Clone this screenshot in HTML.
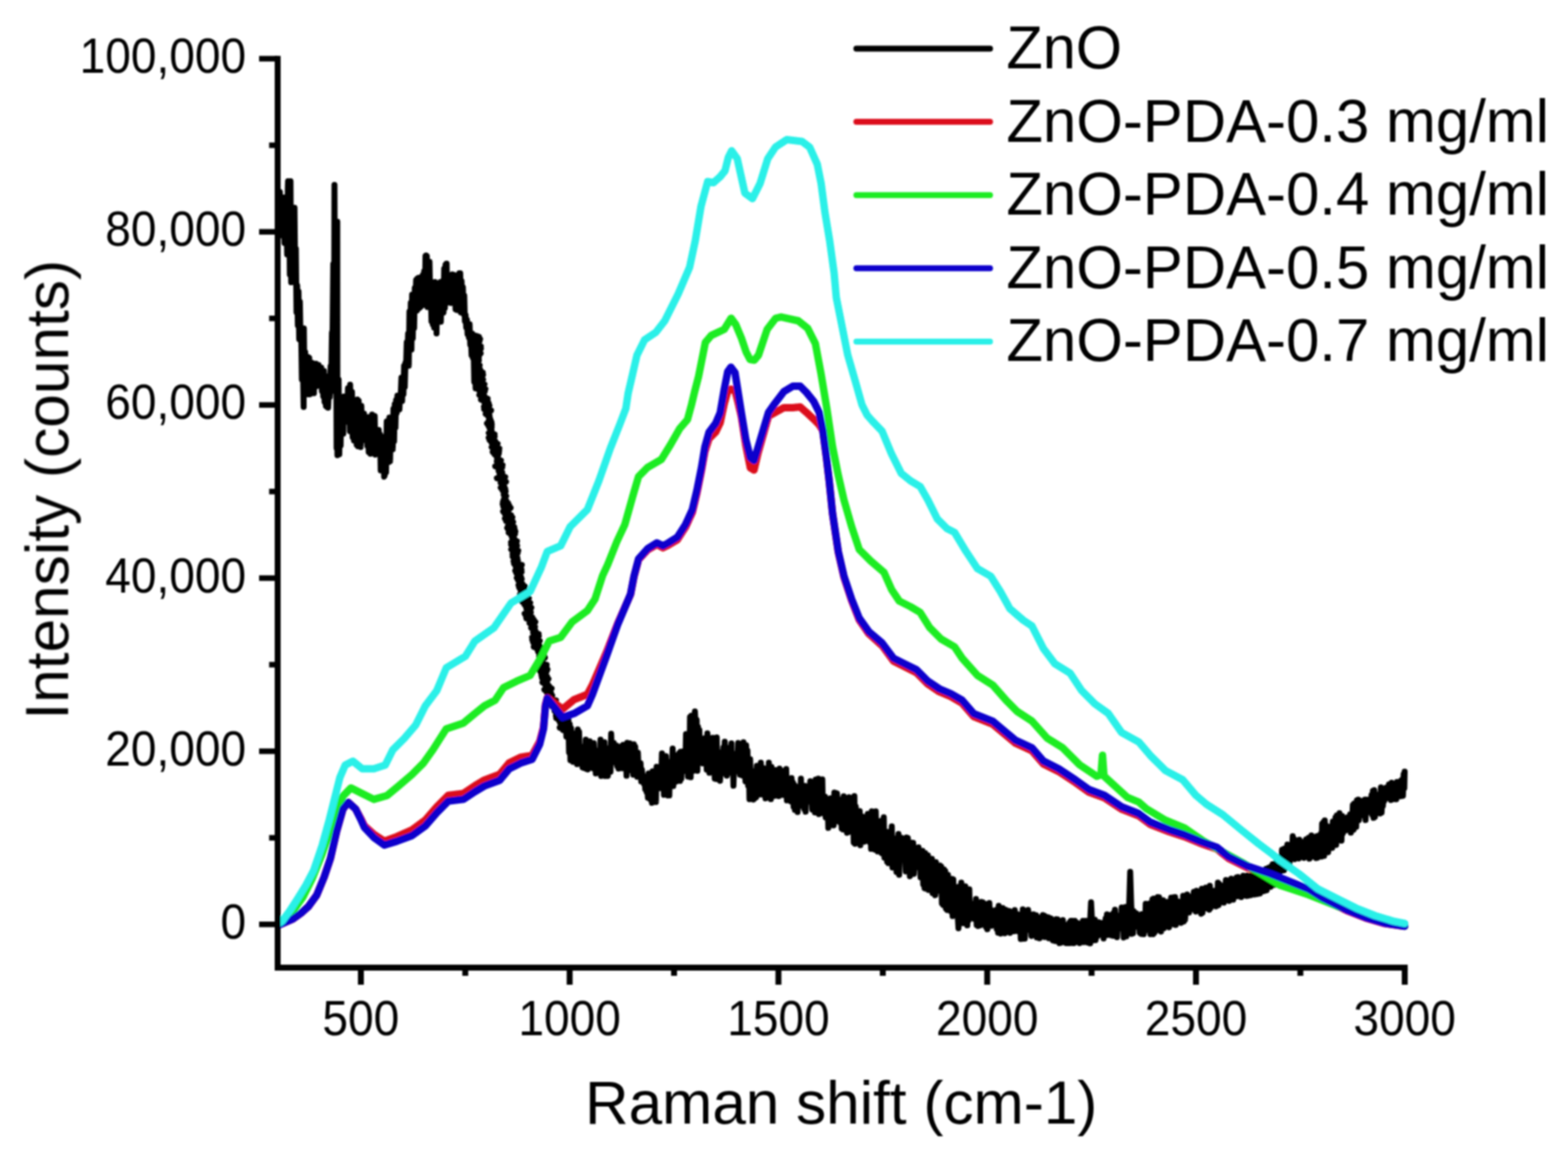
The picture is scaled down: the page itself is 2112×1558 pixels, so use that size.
<!DOCTYPE html>
<html><head><meta charset="utf-8"><title>Raman spectra</title>
<style>html,body{margin:0;padding:0;background:#fff;width:2112px;height:1558px;overflow:hidden}svg{display:block}text{font-family:'Liberation Sans', Arial, Helvetica, sans-serif;fill:#000}</style></head>
<body><svg width="2112" height="1558" viewBox="0 0 2112 1558">
<defs><filter id="soft" filterUnits="userSpaceOnUse" x="0" y="0" width="2112" height="1558"><feGaussianBlur stdDeviation="0.8"/></filter></defs>
<rect width="2112" height="1558" fill="#fff"/>
<g filter="url(#soft)">
<g id="curves">
<polyline points="376.0,286.8 376.9,258.4 377.8,283.5 378.7,265.1 379.6,310.7 380.5,270.1 381.4,318.0 382.3,265.9 383.2,327.2 384.1,281.4 385.0,313.4 385.9,290.4 386.8,342.6 387.7,252.7 388.0,244.0 388.6,324.1 389.5,273.1 390.4,369.6 391.3,244.1 392.2,380.1 393.1,285.4 394.0,348.7 394.9,324.5 395.8,375.9 396.7,279.8 397.6,370.9 398.5,335.1 399.4,420.4 400.3,384.5 401.2,438.2 402.1,392.6 403.0,456.7 403.9,406.2 404.8,458.4 405.7,450.6 406.6,511.0 407.5,463.8 408.4,513.7 409.0,548.0 409.3,442.3 410.2,526.4 411.1,474.3 412.0,529.0 412.9,495.8 413.8,512.2 414.7,480.8 415.0,531.0 415.6,507.4 416.5,481.9 417.4,531.0 418.3,499.3 419.2,509.8 420.1,488.4 421.0,519.1 421.9,506.6 422.8,529.6 423.7,491.3 424.6,520.4 425.5,489.8 426.4,520.1 427.3,498.4 428.2,505.3 429.1,491.4 430.0,513.7 430.9,498.2 431.8,513.4 432.7,494.9 433.6,526.5 434.5,504.9 435.4,533.7 436.3,499.4 437.2,541.2 438.1,518.2 439.0,546.6 439.9,513.3 440.8,548.1 441.7,506.7 441.9,549.0 442.6,533.9 443.5,513.1 444.4,534.4 445.3,493.1 446.2,508.0 447.1,448.3 448.0,444.6 448.9,355.4 449.8,526.2 450.5,249.0 450.7,304.8 451.6,492.0 452.5,327.5 453.4,603.6 454.3,298.5 454.5,613.0 455.2,607.8 456.1,511.3 457.0,611.8 457.9,545.4 458.8,600.0 459.7,535.6 460.6,569.6 461.5,535.0 462.4,584.0 463.0,534.0 463.3,534.0 464.2,564.4 465.1,548.2 466.0,556.0 466.9,535.8 467.8,553.0 468.7,522.8 469.6,568.6 470.5,537.3 471.4,580.7 471.6,518.0 472.3,550.6 473.2,580.7 474.1,527.8 475.0,588.6 475.9,546.8 476.8,593.2 477.7,560.4 478.6,570.5 479.5,557.7 480.4,599.0 481.3,538.1 482.2,601.0 483.1,539.8 484.0,595.0 484.9,552.3 485.8,601.9 486.7,546.6 487.6,583.2 488.5,569.0 489.4,578.3 490.3,557.0 491.2,580.2 492.1,567.4 493.0,593.4 493.9,577.0 494.8,600.3 495.7,561.7 496.6,608.7 497.5,571.2 498.4,594.0 499.0,611.0 499.3,572.1 500.2,583.5 501.1,558.2 502.0,592.0 502.9,573.2 503.8,606.3 504.7,560.3 505.6,612.2 506.5,583.4 507.4,602.4 508.3,587.2 509.2,607.8 510.1,578.9 511.0,607.5 511.9,585.0 512.8,633.4 513.7,592.5 514.6,622.8 515.5,602.1 516.4,613.9 517.3,604.7 517.4,642.0 518.2,640.2 519.1,587.5 520.0,636.0 520.9,567.6 521.8,601.0 522.7,566.4 523.6,622.1 524.5,562.2 525.4,620.9 526.3,578.3 527.2,595.6 528.1,566.8 529.0,604.9 529.9,550.5 530.8,594.1 531.7,544.3 532.6,576.0 533.5,538.7 534.4,556.0 535.3,532.7 536.2,547.5 537.1,538.1 538.0,551.2 538.9,531.4 539.8,531.7 540.7,508.4 541.6,540.0 542.5,512.8 543.4,531.0 544.3,492.4 545.2,521.2 546.1,488.4 547.0,491.3 547.9,460.7 548.8,480.7 549.7,449.2 550.6,492.4 551.5,419.5 552.4,469.5 553.3,407.7 554.2,470.8 555.1,396.8 556.0,455.5 556.9,401.7 557.8,441.7 558.7,387.8 559.6,406.8 560.5,377.0 561.4,418.2 562.3,375.0 563.2,416.0 564.1,374.0 565.0,414.7 565.9,390.1 566.8,413.0 567.7,373.0 568.6,391.3 569.5,370.2 570.4,391.8 571.3,365.2 572.2,410.5 573.1,344.8 574.0,411.0 574.0,344.0 574.9,344.7 575.8,413.5 576.7,374.3 577.6,407.2 578.5,352.6 579.4,395.6 580.3,392.8 581.2,432.7 582.1,392.2 583.0,437.0 583.9,391.1 584.8,441.2 585.7,379.8 586.6,421.7 587.5,391.4 588.0,449.0 588.4,414.7 589.3,387.4 590.2,418.4 591.1,382.8 592.0,412.8 592.9,380.1 593.8,433.3 594.7,379.4 595.6,419.4 596.5,378.2 597.4,421.0 598.3,361.8 599.2,414.6 600.1,356.6 601.0,408.1 601.6,355.0 601.9,380.1 602.8,384.9 603.7,379.1 604.6,394.2 605.5,377.4 606.4,406.7 607.3,387.6 607.3,408.0 608.2,398.4 609.1,369.4 610.0,391.4 610.9,369.9 611.8,399.6 612.7,370.9 613.6,416.4 614.5,379.9 615.4,417.4 616.3,375.0 617.2,394.2 618.1,373.4 618.6,368.0 619.0,398.4 619.9,368.0 620.8,420.8 621.7,378.6 622.6,420.0 623.5,386.8 624.4,422.7 625.3,398.1 626.2,432.5 627.1,424.2 628.0,441.0 628.9,430.5 629.8,450.0 630.7,439.0 631.6,454.5 632.5,436.5 633.4,464.0 634.3,453.0 635.2,478.4 636.1,449.3 637.0,481.9 637.9,467.2 638.8,514.1 639.7,465.0 640.6,522.9 640.6,452.0 645.1,453.6 636.5,455.2 646.7,456.8 640.5,458.4 645.8,460.0 637.6,461.6 642.6,463.2 636.5,464.8 647.7,466.4 640.7,468.0 647.8,469.6 639.8,471.2 645.2,472.8 636.5,474.4 647.5,476.0 641.6,477.6 645.3,479.2 639.7,480.8 644.9,482.4 641.8,484.0 645.0,485.6 638.9,487.2 643.4,488.8 640.1,490.4 646.1,492.0 643.5,493.6 645.7,495.2 640.1,496.8 647.0,498.4 643.6,500.0 650.2,501.6 639.8,503.2 650.7,504.8 644.5,506.4 647.0,508.0 645.5,509.6 650.7,511.2 644.7,512.8 647.3,514.4 644.3,516.0 652.6,517.6 642.5,519.2 649.3,520.8 647.1,522.4 653.8,524.0 645.1,525.6 653.0,527.2 648.6,528.8 649.8,530.4 645.6,532.0 652.7,533.6 650.2,535.2 656.8,536.8 647.8,538.4 656.9,540.0 652.1,541.6 658.2,543.2 653.1,544.8 659.2,546.4 651.8,548.0 657.0,549.6 652.1,551.2 661.5,552.8 654.8,554.4 657.7,556.0 654.2,557.6 659.3,559.2 657.7,560.8 659.8,562.4 659.0,564.0 660.8,565.6 658.0,567.2 662.0,568.8 655.9,570.4 662.4,572.0 658.0,573.6 662.3,575.2 659.5,576.8 661.9,578.4 660.6,580.0 662.5,581.6 658.3,583.2 666.2,584.8 662.1,586.4 666.3,588.0 658.2,589.6 664.7,591.2 659.4,592.8 667.2,594.4 661.9,596.0 670.3,597.6 663.3,599.2 669.0,600.8 662.2,602.4 672.6,604.0 665.0,605.6 672.4,607.2 663.6,608.8 672.0,610.4 666.1,612.0 671.0,613.6 669.0,615.2 670.4,616.8 669.6,618.4 674.8,620.0 669.2,621.6 672.1,623.2 671.0,624.8 676.9,626.4 667.0,628.0 676.5,629.6 671.1,631.2 674.5,632.8 671.6,634.4 676.4,636.0 672.9,637.6 676.8,639.2 672.9,640.8 680.5,642.4 669.2,644.0 678.6,645.6 674.1,647.2 681.6,648.8 674.3,650.4 678.5,652.0 676.7,653.6 679.2,655.2 674.4,656.8 680.5,658.4 676.6,660.0 681.1,661.6 678.4,663.2 680.3,664.8 678.5,666.4 681.8,668.0 679.4,669.6 680.1,671.2 678.5,672.8 682.0,674.4 677.4,676.0 684.4,677.6 677.1,679.2 685.8,680.8 677.9,682.4 687.8,684.0 680.5,685.6 685.1,687.2 677.6,688.8 684.7,690.4 679.8,692.0 688.3,693.6 684.5,695.2 690.1,696.8 680.0,698.4 689.5,700.0 681.6,701.6 691.2,703.2 685.8,704.8 690.1,706.4 684.3,708.0 692.6,709.6 683.1,711.2 693.2,712.8 685.1,714.4 694.2,716.0 685.1,717.6 693.7,719.2 688.5,720.8 690.3,722.4 689.7,724.0 692.9,725.6 690.4,727.2 696.3,728.8 688.3,730.4 695.7,732.0 688.4,733.6 696.5,735.2 689.8,736.8 693.0,738.4 688.5,740.0 698.1,741.6 690.8,743.2 697.3,744.8 690.4,746.4 695.1,748.0 690.5,749.6 696.8,751.2 695.1,752.8 697.4,754.4 691.7,756.0 697.6,757.6 692.3,759.2 702.9,760.8 694.4,762.4 700.0,764.0 695.1,765.6 702.4,767.2 694.0,768.8 702.6,770.4 695.4,772.0 700.0,773.6 699.0,775.2 701.7,776.8 696.1,778.4 702.7,780.0 697.8,781.6 701.6,783.2 701.5,784.8 703.8,786.4 698.4,788.0 707.0,789.6 699.2,791.2 705.4,792.8 700.9,794.4 707.2,796.0 702.0,797.6 705.9,799.2 700.3,800.8 707.2,802.4 700.5,804.0 712.4,805.6 707.1,807.2 710.4,808.8 703.1,810.4 714.2,812.0 706.1,813.6 710.8,815.2 708.3,816.8 715.7,818.4 709.1,820.0 714.3,821.6 710.5,823.2 715.0,824.8 706.6,826.4 713.6,828.0 708.3,829.6 716.8,831.2 708.9,832.8 718.9,834.4 713.8,836.0 721.1,837.6 713.2,839.2 716.8,840.8 717.1,842.4 720.6,844.0 715.4,845.6 720.4,847.2 718.2,848.8 721.6,850.4 718.1,852.0 725.5,853.6 720.9,855.2 725.8,856.8 716.6,858.4 722.8,860.0 716.9,861.6 727.1,863.2 717.9,864.8 725.4,866.4 721.8,868.0 726.8,869.6 718.9,871.2 728.8,872.8 723.5,874.4 728.6,876.0 724.8,877.6 727.1,879.2 726.6,880.8 732.7,882.4 726.3,884.0 734.0,885.6 727.3,887.2 730.7,888.8 726.4,890.4 731.0,892.0 728.0,893.6 736.3,895.2 725.6,896.8 736.2,898.4 727.9,900.0 737.5,901.6 726.8,903.2 736.1,904.8 728.8,906.4 733.8,908.0 729.4,909.6 736.9,911.2 730.0,912.8 738.8,914.4 733.6,916.0 736.0,917.6 730.6,919.2 737.4,920.8 734.3,922.4 739.7,924.0 736.3,925.6 743.0,927.2 733.2,928.8 741.1,930.4 736.1,932.0 742.3,933.6 737.6,935.2 743.8,936.8 740.9,938.4 743.4,940.0 741.6,941.6 748.8,943.2 740.9,944.8 745.6,946.4 739.4,948.0 751.4,949.6 743.4,951.2 747.7,952.8 746.5,954.4 748.9,956.0 747.1,957.6 750.5,959.2 749.2,960.8 753.0,962.4 748.8,964.0 758.2,965.6 749.2,967.2 756.9,968.8 752.7,970.4 759.1,972.0 754.4,973.6 759.5,975.2 757.8,976.8 760.6,978.4 753.9,980.0 761.2,981.6 758.1,983.2 765.7,984.8 762.0,970.7 762.9,992.0 763.8,970.6 764.7,989.7 765.6,968.8 766.5,1013.1 767.4,975.2 768.3,1023.8 769.2,980.6 770.1,998.8 771.0,993.2 771.9,1025.8 772.8,992.4 773.7,1019.4 774.6,987.5 775.5,1003.1 776.4,1003.7 777.3,1029.1 778.2,982.3 779.1,1023.7 780.0,985.5 780.9,1022.4 781.8,1008.0 782.7,1018.7 783.6,1005.5 784.5,1033.2 785.4,1009.5 786.3,1034.1 787.2,1005.1 788.1,1031.4 789.0,996.0 789.9,1035.5 790.8,1011.5 791.7,1036.2 792.6,1010.4 793.5,1021.0 794.4,998.3 795.3,1025.6 796.2,1007.6 797.1,1026.1 798.0,1010.0 798.9,1034.8 799.8,1000.8 800.7,1024.5 801.6,1016.3 802.5,1041.5 803.4,1016.5 804.3,1030.1 805.2,1010.7 806.1,1021.8 807.0,1017.4 807.9,1026.2 808.8,996.1 809.7,1045.0 810.6,1009.8 811.5,1036.1 812.4,1000.3 813.3,1018.4 814.2,999.4 815.1,1045.0 816.0,1007.1 816.9,1017.7 817.8,1011.4 818.7,1045.0 819.6,1015.6 820.5,1031.2 821.4,1007.0 822.3,1039.3 823.2,988.1 824.1,1014.7 825.0,1008.3 825.9,1023.6 826.8,1000.4 827.7,1022.6 828.6,1011.5 829.5,1027.3 830.4,1004.0 831.3,1031.3 832.2,1022.4 833.1,1034.9 834.0,1021.8 834.9,1028.3 835.8,1014.3 836.7,1028.3 837.6,1004.4 838.5,1034.6 839.4,1003.1 840.3,1034.4 841.2,1023.1 842.1,1026.0 843.0,1004.1 843.9,1044.6 844.8,1000.3 845.7,1033.2 846.6,1008.6 847.5,1033.3 848.4,1001.0 849.3,1026.0 850.2,1018.2 851.1,1038.1 852.0,1016.3 852.9,1043.2 853.8,1002.2 854.7,1030.1 855.6,1005.6 856.5,1040.7 857.4,1023.6 858.3,1046.0 859.2,1013.6 860.1,1035.1 861.0,1033.0 861.9,1046.4 862.8,1027.8 863.7,1052.3 864.6,1036.6 865.5,1048.6 866.4,1049.9 867.3,1055.4 868.2,1045.4 869.1,1062.9 870.0,1055.9 870.9,1066.4 871.8,1056.4 872.7,1074.4 873.6,1041.5 874.5,1066.1 875.4,1045.3 876.3,1076.6 877.2,1054.7 878.1,1081.1 879.0,1038.5 879.9,1066.1 880.8,1041.9 881.7,1061.1 882.6,1052.8 883.5,1079.9 884.4,1032.4 885.3,1052.0 886.2,1043.6 887.1,1056.4 888.0,1045.2 888.9,1061.4 889.8,1036.3 890.7,1044.5 891.6,1014.4 892.5,1051.7 893.4,1027.8 894.3,1070.3 895.2,1035.8 896.1,1046.6 897.0,1018.3 897.9,1051.7 898.8,1030.4 899.7,1071.2 900.6,1043.2 901.5,1071.1 902.4,1025.9 903.3,1046.1 904.2,1036.7 905.1,1038.6 906.0,1008.0 906.9,1058.4 907.8,1016.2 908.7,1041.7 909.6,1020.9 910.5,1052.7 911.4,1023.3 912.3,1045.2 913.2,1029.9 914.1,1046.5 915.0,1014.0 915.9,1051.6 916.8,1012.2 917.7,1048.7 918.6,1021.9 919.5,1039.0 920.4,1011.7 921.3,1028.7 922.2,1016.5 923.1,1033.8 924.0,988.5 924.9,1015.5 925.8,1002.2 926.7,1045.7 927.6,1000.5 928.5,1046.0 929.4,965.6 930.3,1046.6 931.2,963.8 932.1,1006.6 933.0,990.6 933.9,1037.9 934.8,981.3 935.7,1013.3 936.6,967.3 937.5,1006.7 938.4,969.5 939.3,1038.0 940.2,978.8 941.1,1008.8 942.0,983.1 942.9,1015.5 943.8,1001.4 944.7,1019.0 945.6,995.1 946.5,1027.9 947.4,1000.7 948.3,1009.9 949.2,994.0 950.1,1009.6 951.0,994.6 951.9,1036.5 952.8,987.6 953.7,1029.9 954.6,1007.4 955.5,1040.6 956.4,994.0 957.3,1032.2 958.2,1017.9 959.1,1029.6 960.0,993.6 960.9,1029.7 961.8,1019.8 962.7,1048.3 963.6,1014.8 964.5,1049.0 965.4,993.1 966.3,1041.8 967.2,1018.0 968.1,1034.2 969.0,1012.9 969.9,1051.4 970.8,1018.2 971.7,1042.3 972.6,1014.4 973.5,1038.5 974.4,1006.5 975.3,1025.5 976.2,998.7 977.1,1032.0 978.0,1020.4 978.9,1044.6 979.8,1009.2 980.7,1028.1 981.6,1007.1 982.5,1035.8 983.4,1016.8 984.3,1030.4 985.2,1001.0 986.1,1041.5 987.0,1019.0 987.9,1058.1 988.8,1031.9 989.7,1039.5 990.6,1017.1 991.5,1036.4 992.4,1014.6 993.3,1036.0 994.2,1000.5 995.1,1034.8 996.0,1021.1 996.9,1043.3 997.8,1008.7 998.7,1031.0 999.6,1018.9 1000.5,1044.5 1001.4,999.6 1002.3,1044.8 1003.2,1019.2 1004.1,1052.2 1005.0,1003.4 1005.9,1048.5 1006.8,1010.8 1007.7,1057.8 1008.6,1026.0 1009.5,1076.2 1010.4,1022.3 1011.3,1060.3 1012.2,1043.6 1013.1,1056.8 1014.0,1043.8 1014.9,1076.7 1015.8,1052.7 1016.7,1075.0 1017.6,1037.8 1018.5,1073.3 1019.4,1031.3 1020.3,1060.1 1021.2,1047.1 1022.1,1069.9 1023.0,1046.0 1023.9,1069.7 1024.8,1027.0 1025.7,1069.8 1026.6,1036.1 1027.5,1064.5 1028.4,1034.2 1029.3,1059.6 1030.2,1038.4 1031.1,1075.1 1032.0,1045.5 1032.9,1069.5 1033.8,1037.4 1034.7,1070.3 1035.6,1027.0 1036.5,1055.5 1037.4,1042.0 1038.3,1076.1 1039.2,1032.8 1040.1,1057.4 1041.0,1050.1 1041.9,1067.2 1042.8,1042.5 1043.7,1071.7 1044.6,1037.1 1045.5,1055.9 1046.4,1042.5 1047.3,1054.3 1048.2,1040.6 1049.1,1072.1 1050.0,1034.9 1050.9,1057.8 1051.8,1044.2 1052.7,1057.0 1053.6,1037.9 1054.5,1070.5 1055.4,1053.1 1056.3,1064.2 1057.2,1047.0 1058.1,1061.7 1059.0,1035.6 1059.9,1077.8 1060.8,1051.9 1061.7,1058.4 1062.6,1053.9 1063.5,1064.0 1064.4,1052.3 1065.3,1079.2 1066.2,1047.8 1067.1,1073.8 1068.0,1053.7 1068.9,1086.5 1069.8,1056.9 1070.7,1090.6 1071.6,1059.0 1072.5,1088.1 1073.4,1064.6 1074.3,1093.5 1075.2,1067.7 1076.1,1085.3 1077.0,1071.2 1077.9,1075.2 1078.8,1048.4 1079.7,1085.0 1080.6,1070.1 1081.5,1083.2 1082.4,1072.3 1083.3,1089.6 1084.2,1058.3 1085.1,1093.1 1086.0,1062.5 1086.9,1080.0 1087.8,1073.9 1088.7,1079.3 1089.6,1068.4 1090.5,1077.2 1091.4,1051.9 1092.3,1079.5 1093.2,1072.9 1094.1,1090.3 1095.0,1072.4 1095.9,1081.7 1096.8,1069.4 1097.7,1094.1 1098.6,1049.8 1099.5,1075.8 1100.4,1049.2 1101.3,1090.5 1102.2,1048.6 1103.1,1096.3 1104.0,1069.8 1104.9,1082.7 1105.8,1066.4 1106.7,1083.8 1107.6,1049.4 1108.5,1095.0 1109.4,1072.3 1110.3,1083.0 1111.2,1072.8 1112.1,1100.7 1113.0,1079.9 1113.9,1094.5 1114.8,1079.5 1115.7,1114.8 1116.6,1089.1 1117.5,1093.6 1118.4,1075.1 1119.3,1106.1 1120.2,1088.8 1121.1,1100.8 1122.0,1086.7 1122.9,1111.5 1123.8,1067.2 1124.7,1104.9 1125.6,1067.7 1126.5,1103.4 1127.4,1068.4 1128.3,1105.8 1129.2,1076.6 1130.1,1101.9 1131.0,1079.3 1131.9,1107.9 1132.8,1076.7 1133.7,1115.6 1134.6,1076.0 1135.5,1117.0 1136.4,1072.2 1137.3,1108.1 1138.2,1082.6 1139.1,1100.9 1140.0,1083.1 1140.9,1121.4 1141.8,1096.7 1142.7,1120.7 1143.6,1073.4 1144.5,1112.4 1145.4,1095.6 1146.3,1101.3 1147.2,1094.4 1148.1,1109.9 1149.0,1085.9 1149.9,1134.4 1150.8,1072.0 1151.7,1136.2 1152.6,1086.1 1153.5,1106.3 1154.4,1105.0 1155.3,1120.4 1156.2,1104.7 1157.1,1126.9 1158.0,1092.2 1158.9,1138.2 1159.8,1106.2 1160.7,1121.5 1161.6,1099.5 1162.5,1114.7 1163.4,1109.3 1164.3,1133.4 1165.2,1114.6 1166.1,1130.4 1167.0,1105.6 1167.9,1121.8 1168.8,1095.9 1169.7,1129.9 1170.6,1113.2 1171.5,1134.3 1172.4,1103.5 1173.3,1143.1 1174.2,1092.4 1175.1,1117.9 1176.0,1104.7 1176.9,1142.8 1177.8,1100.7 1178.7,1144.2 1179.6,1092.4 1180.5,1133.0 1181.4,1110.4 1182.3,1146.6 1183.2,1118.7 1184.1,1139.2 1185.0,1114.5 1185.9,1136.0 1186.8,1105.2 1187.7,1148.9 1188.6,1111.5 1189.5,1126.4 1190.4,1100.4 1191.3,1154.9 1192.2,1122.5 1193.1,1144.3 1194.0,1122.9 1194.9,1160.3 1195.8,1120.3 1196.7,1162.3 1197.6,1133.8 1198.5,1148.2 1199.4,1133.6 1200.3,1148.3 1201.2,1112.7 1202.1,1168.2 1203.0,1140.6 1203.9,1148.2 1204.8,1131.6 1205.7,1151.7 1206.6,1129.0 1207.5,1174.2 1208.4,1134.4 1209.3,1156.1 1210.2,1123.1 1211.1,1178.0 1212.0,1149.8 1212.9,1152.5 1213.8,1127.9 1214.7,1153.8 1215.6,1129.1 1216.5,1154.9 1217.4,1143.5 1218.3,1154.8 1219.2,1148.4 1220.1,1173.5 1221.0,1127.8 1221.9,1169.9 1222.8,1128.5 1223.7,1160.5 1224.6,1140.3 1225.5,1179.9 1226.4,1150.9 1227.3,1165.8 1228.2,1134.7 1229.1,1164.0 1230.0,1134.9 1230.9,1176.8 1231.8,1159.6 1232.7,1166.2 1233.6,1161.6 1234.5,1165.7 1235.4,1150.2 1236.3,1167.8 1237.2,1141.0 1238.1,1167.5 1239.0,1149.8 1239.9,1181.3 1240.8,1156.8 1241.7,1172.4 1242.6,1145.7 1243.5,1191.0 1244.4,1149.6 1245.3,1195.8 1246.2,1148.7 1247.1,1196.6 1248.0,1166.8 1248.9,1186.1 1249.8,1151.8 1250.7,1198.5 1251.6,1165.0 1252.5,1191.2 1253.4,1171.0 1254.3,1184.5 1255.2,1156.4 1256.1,1202.7 1257.0,1161.9 1257.9,1184.0 1258.8,1178.8 1259.7,1205.5 1260.6,1161.0 1261.5,1189.9 1262.4,1176.8 1263.3,1191.1 1264.2,1186.0 1265.1,1197.4 1266.0,1165.6 1266.9,1200.4 1267.8,1167.1 1268.7,1216.4 1269.6,1182.8 1270.5,1218.7 1271.4,1170.8 1272.3,1214.4 1273.2,1173.1 1274.1,1223.5 1275.0,1184.0 1275.9,1225.4 1276.8,1178.0 1277.7,1213.4 1278.6,1196.0 1279.5,1209.1 1280.4,1203.0 1281.3,1227.6 1282.2,1183.5 1283.1,1233.6 1284.0,1184.2 1284.9,1221.8 1285.8,1198.4 1286.7,1219.7 1287.6,1206.9 1288.5,1214.1 1289.4,1199.1 1290.3,1224.9 1291.2,1193.9 1292.1,1233.2 1293.0,1213.8 1293.9,1223.6 1294.8,1188.5 1295.7,1230.2 1296.6,1202.7 1297.5,1243.2 1298.4,1211.8 1299.3,1236.3 1300.2,1193.6 1301.1,1240.8 1302.0,1215.0 1302.9,1246.1 1303.8,1206.9 1304.7,1239.1 1305.6,1197.6 1306.5,1235.5 1307.4,1220.3 1308.3,1229.1 1309.2,1218.8 1310.1,1229.7 1311.0,1216.9 1311.9,1237.4 1312.8,1227.3 1313.7,1231.2 1314.6,1210.6 1315.5,1245.7 1316.4,1229.6 1317.3,1247.1 1318.2,1229.5 1319.1,1237.2 1320.0,1216.8 1320.9,1246.0 1321.8,1214.6 1322.7,1234.0 1323.6,1214.9 1324.5,1234.3 1325.4,1223.0 1326.3,1237.8 1327.2,1217.2 1328.1,1248.5 1329.0,1220.5 1329.9,1251.3 1330.8,1221.5 1331.7,1242.2 1332.6,1216.1 1333.5,1243.8 1334.4,1224.8 1335.3,1246.7 1336.2,1226.6 1337.1,1240.1 1338.0,1231.6 1338.9,1238.3 1339.8,1233.8 1340.7,1239.3 1341.6,1225.3 1342.5,1250.9 1343.4,1227.1 1344.3,1255.9 1345.2,1219.8 1346.1,1240.1 1347.0,1222.9 1347.9,1257.2 1348.8,1235.0 1349.7,1240.5 1350.6,1222.8 1351.5,1248.2 1352.4,1231.2 1353.3,1256.8 1354.2,1224.9 1355.1,1254.6 1356.0,1225.9 1356.9,1250.6 1357.8,1231.1 1358.7,1246.9 1359.6,1226.7 1360.5,1256.2 1361.4,1233.2 1362.3,1253.8 1363.2,1237.9 1364.1,1250.2 1365.0,1233.0 1365.9,1254.0 1366.8,1225.6 1367.7,1250.3 1368.6,1237.5 1369.5,1245.2 1370.4,1230.9 1371.3,1254.1 1372.2,1243.5 1373.1,1249.6 1374.0,1235.6 1374.9,1264.4 1375.8,1240.6 1376.7,1264.3 1377.6,1224.5 1378.5,1256.9 1379.4,1234.9 1380.3,1264.1 1381.2,1241.3 1382.1,1245.9 1383.0,1227.0 1383.9,1251.4 1384.8,1225.3 1385.7,1252.0 1386.6,1238.3 1387.5,1247.1 1388.4,1242.1 1389.3,1260.4 1390.2,1231.5 1391.1,1249.9 1392.0,1231.2 1392.9,1254.8 1393.8,1235.2 1394.7,1256.7 1395.6,1232.6 1396.5,1262.3 1397.4,1234.7 1398.3,1258.3 1399.2,1239.6 1400.1,1263.6 1401.0,1237.9 1401.9,1256.2 1402.8,1243.7 1403.7,1253.1 1404.6,1232.3 1405.5,1252.2 1406.4,1233.0 1407.3,1261.8 1408.2,1234.3 1409.1,1259.8 1410.0,1239.7 1410.9,1258.5 1411.8,1235.3 1412.7,1263.4 1413.6,1244.6 1414.5,1257.1 1415.4,1236.8 1416.3,1260.4 1417.2,1246.3 1418.1,1266.4 1419.0,1247.0 1419.9,1263.4 1420.8,1244.6 1421.7,1267.3 1422.6,1237.8 1423.5,1261.6 1424.4,1238.1 1425.3,1256.3 1426.2,1241.7 1427.1,1270.0 1428.0,1252.1 1428.9,1269.6 1429.8,1250.6 1430.7,1266.0 1431.6,1239.0 1432.5,1268.5 1433.4,1249.1 1434.3,1267.6 1435.2,1245.2 1436.1,1270.0 1437.0,1249.9 1437.9,1270.0 1438.8,1253.6 1439.7,1261.9 1440.6,1242.2 1441.5,1270.0 1442.4,1240.0 1443.3,1259.5 1444.2,1240.0 1445.1,1270.0 1446.0,1242.3 1446.9,1270.0 1447.8,1240.0 1448.7,1257.5 1449.6,1251.8 1450.5,1256.8 1451.4,1243.0 1452.3,1267.5 1453.2,1254.0 1454.1,1270.0 1455.0,1246.1 1455.9,1260.6 1456.8,1247.5 1457.7,1258.2 1458.6,1240.0 1459.5,1268.7 1460.4,1249.6 1461.3,1259.2 1462.2,1240.0 1463.1,1261.4 1464.0,1249.8 1464.9,1269.3 1465.8,1240.0 1466.7,1261.2 1467.6,1239.9 1468.5,1270.3 1469.4,1251.9 1470.3,1259.9 1471.2,1239.2 1472.1,1266.0 1473.0,1240.3 1473.9,1265.1 1474.8,1238.4 1475.7,1266.0 1476.6,1252.7 1477.5,1261.3 1478.4,1251.9 1479.3,1259.6 1480.2,1241.9 1481.1,1258.1 1482.0,1242.9 1482.9,1257.7 1483.8,1243.0 1484.7,1256.6 1485.6,1244.9 1486.5,1263.7 1487.4,1246.9 1488.3,1248.3 1489.2,1236.7 1490.1,1249.7 1491.0,1231.3 1491.9,1259.0 1492.8,1235.7 1493.7,1249.2 1494.6,1233.1 1495.5,1258.9 1496.4,1232.0 1497.3,1259.5 1498.2,1234.1 1499.1,1260.2 1500.0,1229.3 1500.9,1260.1 1501.8,1224.9 1502.7,1244.7 1503.6,1241.1 1504.5,1262.1 1505.4,1240.2 1506.3,1249.7 1507.2,1232.9 1508.1,1250.3 1509.0,1237.5 1509.9,1246.0 1510.8,1221.9 1511.7,1248.0 1512.6,1234.5 1513.5,1262.4 1514.4,1225.5 1515.3,1258.2 1516.2,1221.3 1517.1,1260.8 1518.0,1223.5 1518.9,1256.7 1519.8,1220.9 1520.7,1247.0 1521.6,1220.7 1522.5,1247.1 1523.4,1220.5 1524.3,1257.6 1525.2,1234.1 1526.1,1256.8 1527.0,1227.0 1527.9,1248.7 1528.8,1234.2 1529.7,1238.9 1530.6,1230.1 1531.5,1243.3 1532.4,1238.0 1533.3,1246.4 1534.2,1236.5 1535.1,1256.0 1536.0,1237.4 1536.9,1257.5 1537.8,1230.9 1538.7,1257.8 1539.6,1237.2 1540.5,1258.0 1541.4,1233.9 1542.3,1253.5 1543.2,1216.9 1544.1,1249.4 1545.0,1224.4 1545.9,1243.2 1546.8,1234.6 1547.7,1252.3 1548.6,1216.5 1549.5,1258.0 1550.4,1230.7 1551.3,1252.5 1552.2,1211.1 1553.1,1258.0 1554.0,1209.9 1554.9,1256.0 1555.8,1231.9 1556.7,1237.3 1557.6,1229.7 1558.5,1238.1 1559.4,1208.1 1560.3,1252.4 1561.2,1208.2 1562.1,1246.0 1563.0,1215.8 1563.9,1254.4 1564.8,1226.2 1565.7,1235.6 1566.6,1212.3 1567.5,1250.2 1568.4,1220.0 1569.3,1236.7 1570.2,1217.4 1571.1,1237.6 1572.0,1214.6 1572.9,1242.2 1573.8,1228.7 1574.7,1248.7 1575.6,1226.9 1576.5,1244.0 1577.4,1208.8 1578.3,1234.5 1579.2,1216.0 1580.1,1233.7 1581.0,1208.2 1581.9,1244.8 1582.8,1207.9 1583.7,1245.6 1584.6,1220.5 1585.5,1240.4 1586.4,1213.7 1587.3,1237.8 1588.2,1221.8 1589.1,1235.0 1590.0,1224.8 1590.9,1242.7 1591.8,1215.3 1592.7,1238.6 1593.6,1206.2 1594.5,1240.9 1595.4,1213.2 1596.3,1238.4 1597.2,1209.6 1598.1,1229.0 1599.0,1204.5 1599.9,1225.9 1600.8,1212.6 1601.7,1228.8 1602.6,1207.2 1603.5,1220.8 1604.4,1213.4 1605.3,1221.0 1606.2,1215.6 1607.1,1223.4 1608.0,1201.0 1608.9,1225.2 1609.8,1206.5 1610.7,1227.6 1611.6,1199.6 1612.5,1226.0 1613.4,1211.9 1614.3,1220.0 1615.2,1201.7 1616.1,1220.6 1617.0,1201.4 1617.9,1230.5 1618.8,1196.8 1619.7,1229.2 1620.6,1206.9 1621.5,1218.7 1622.4,1210.3 1623.3,1217.8 1624.2,1195.2 1625.1,1223.0 1626.0,1203.4 1626.9,1222.6 1627.8,1208.4 1628.7,1225.1 1629.6,1192.7 1630.5,1222.7 1631.4,1206.2 1632.3,1212.5 1633.2,1204.0 1634.1,1212.1 1635.0,1199.5 1635.9,1207.2 1636.8,1203.7 1637.7,1220.6 1638.6,1204.2 1639.5,1219.7 1640.4,1188.5 1641.3,1218.8 1642.2,1190.2 1643.1,1204.3 1644.0,1200.7 1644.9,1203.7 1645.8,1192.7 1646.7,1201.9 1647.6,1193.2 1648.5,1215.5 1649.4,1194.0 1650.3,1205.4 1651.2,1185.0 1652.1,1200.2 1653.0,1194.4 1653.9,1211.9 1654.8,1185.5 1655.7,1213.2 1656.6,1191.7 1657.5,1198.8 1658.4,1183.3 1659.3,1197.9 1660.2,1195.6 1661.1,1211.5 1662.0,1195.3 1662.9,1198.5 1663.8,1192.0 1664.7,1203.0 1665.6,1181.5 1666.5,1206.9 1667.4,1181.1 1668.3,1199.0 1669.2,1194.4 1670.1,1204.5 1671.0,1183.4 1671.9,1208.0 1672.8,1187.5 1673.7,1205.9 1674.6,1179.3 1675.5,1203.8 1676.4,1180.6 1677.3,1200.9 1678.2,1183.9 1679.1,1206.6 1680.0,1178.9 1680.9,1206.3 1681.8,1184.9 1682.7,1200.3 1683.6,1187.4 1684.5,1205.6 1685.4,1179.2 1686.3,1197.0 1687.2,1175.9 1688.1,1198.2 1689.0,1176.2 1689.9,1204.6 1690.8,1186.5 1691.7,1197.6 1692.6,1183.2 1693.5,1203.9 1694.4,1178.0 1695.3,1201.6 1696.2,1175.7 1697.1,1203.2 1698.0,1173.0 1698.9,1191.0 1699.8,1178.0 1700.7,1196.1 1701.6,1186.2 1702.5,1199.9 1703.4,1178.1 1704.3,1195.0 1705.2,1169.9 1706.1,1198.9 1707.0,1178.0 1707.9,1192.3 1708.8,1168.4 1709.7,1191.0 1710.6,1178.1 1711.5,1194.2 1712.4,1166.4 1713.3,1190.5 1714.2,1163.8 1715.1,1180.8 1716.0,1172.5 1716.9,1191.6 1717.8,1167.1 1718.7,1180.4 1719.6,1156.0 1720.5,1180.5 1721.4,1166.2 1722.3,1184.6 1723.2,1154.5 1724.1,1174.3 1725.0,1161.9 1725.9,1162.9 1726.8,1144.3 1727.7,1162.8 1728.6,1143.6 1729.5,1171.9 1730.4,1142.4 1731.3,1155.0 1732.2,1143.3 1733.1,1168.5 1734.0,1137.3 1734.9,1162.4 1735.8,1138.2 1736.7,1165.5 1737.6,1144.7 1738.5,1149.9 1739.4,1137.0 1740.3,1154.1 1741.2,1126.0 1742.1,1155.6 1743.0,1129.8 1743.9,1156.9 1744.8,1133.6 1745.7,1145.2 1746.6,1139.4 1747.5,1155.1 1748.4,1141.9 1749.3,1156.1 1750.2,1130.7 1751.1,1143.2 1752.0,1134.3 1752.9,1150.1 1753.8,1134.6 1754.7,1142.9 1755.6,1140.2 1756.5,1155.2 1757.4,1133.0 1758.3,1149.8 1759.2,1130.3 1760.1,1149.3 1761.0,1136.9 1761.9,1143.1 1762.8,1128.0 1763.7,1156.3 1764.6,1133.8 1765.5,1154.5 1766.4,1125.1 1767.3,1141.1 1768.2,1137.3 1769.1,1142.7 1770.0,1131.3 1770.9,1142.7 1771.8,1135.8 1772.7,1155.6 1773.6,1126.1 1774.5,1155.1 1775.4,1125.5 1776.3,1139.5 1777.2,1130.8 1778.1,1146.9 1779.0,1122.7 1779.9,1153.5 1780.8,1109.2 1781.7,1131.6 1782.6,1107.0 1783.5,1152.4 1784.4,1104.7 1785.3,1137.1 1786.2,1111.5 1787.1,1137.3 1788.0,1123.7 1788.9,1147.7 1789.8,1115.7 1790.7,1126.9 1791.6,1121.6 1792.5,1126.0 1793.4,1112.2 1794.3,1141.8 1795.2,1106.3 1796.1,1124.9 1797.0,1117.8 1797.9,1125.9 1798.8,1100.8 1799.7,1137.7 1800.6,1098.1 1801.5,1124.9 1802.4,1112.7 1803.3,1116.4 1804.2,1095.1 1805.1,1119.9 1806.0,1102.0 1806.9,1132.1 1807.8,1098.7 1808.7,1122.4 1809.6,1103.4 1810.5,1111.2 1811.4,1102.9 1812.3,1118.5 1813.2,1108.3 1814.1,1109.3 1815.0,1100.5 1815.9,1108.6 1816.8,1105.2 1817.7,1108.1 1818.6,1096.4 1819.5,1121.3 1820.4,1096.2 1821.3,1108.1 1822.2,1084.0 1823.1,1117.4 1824.0,1081.9 1824.9,1107.8 1825.8,1085.6 1826.7,1113.6 1827.6,1077.8 1828.5,1104.9 1829.4,1076.7 1830.3,1104.5 1831.2,1088.6 1832.1,1098.8 1833.0,1078.6 1833.9,1096.6 1834.8,1086.6 1835.7,1092.1 1836.6,1087.2 1837.5,1094.3 1838.4,1076.8 1839.3,1104.3 1840.2,1076.7 1841.1,1090.8 1842.0,1077.0 1842.9,1093.6 1843.8,1079.3 1844.7,1093.1 1845.6,1076.0 1846.5,1093.3 1847.4,1070.5 1848.3,1097.0 1849.2,1064.9 1850.1,1101.3 1851.0,1064.1 1851.9,1100.1 1852.8,1070.7 1853.7,1085.9 1854.6,1071.9 1855.5,1091.6 1856.4,1077.9 1857.3,1079.5 1858.2,1069.2 1859.1,1095.5 1860.0,1060.3 1860.9,1094.3 1861.8,1076.3 1862.7,1085.4 1863.6,1068.9 1864.5,1078.5 1865.4,1071.0 1866.3,1074.9 1867.2,1060.4 1868.1,1074.1 1869.0,1070.4 1869.9,1074.8 1870.8,1056.2 1871.7,1069.5 1872.6,1068.1 1873.5,1077.3 1874.4,1053.9 1875.3,1074.2 1876.2,1055.6 1877.1,1076.0 1878.0,1063.7 1878.9,1074.1 1879.8,1065.4 1880.7,1076.3 1881.6,1053.1 1882.5,1067.9 1883.4,1057.4 1884.3,1068.1 1885.2,1060.1 1886.1,1072.3 1887.0,1051.2 1887.9,1060.3 1888.8,1049.5 1889.7,1071.7 1890.6,1042.6 1891.5,1061.4 1892.0,1039.0" stroke="#000" stroke-width="8" fill="none" stroke-linejoin="round" stroke-linecap="round"/>
<polyline points="934.0,1004.0 936.0,958.0 938.0,1004.0" stroke="#000" stroke-width="8" fill="none" stroke-linejoin="round" stroke-linecap="round"/>
<polyline points="1467.6,1255.0 1469.6,1215.0 1471.6,1255.0" stroke="#000" stroke-width="8" fill="none" stroke-linejoin="round" stroke-linecap="round"/>
<polyline points="1520.3,1239.6 1522.3,1174.0 1524.3,1239.6" stroke="#000" stroke-width="8" fill="none" stroke-linejoin="round" stroke-linecap="round"/>
<polyline points="1289.0,1215.5 1291.0,1250.0 1293.0,1215.5" stroke="#000" stroke-width="8" fill="none" stroke-linejoin="round" stroke-linecap="round"/>
<polyline points="375.0,1245.9 394.2,1237.7 405.0,1230.0 415.4,1220.7 426.7,1205.2 436.6,1181.2 445.1,1155.8 453.5,1119.1 462.0,1089.4 469.1,1080.5 479.0,1089.4 486.0,1102.3 490.7,1111.9 503.5,1123.5 517.7,1132.8 534.4,1126.6 554.9,1117.5 572.9,1104.3 588.3,1086.4 603.7,1070.9 624.2,1068.4 639.6,1058.1 652.5,1050.4 673.0,1042.7 685.9,1027.3 701.3,1019.8 716.7,1017.2 727.0,998.4 732.1,979.0 734.7,948.9 737.2,939.5 757.8,954.8 773.2,942.2 791.2,935.0 798.0,922.2 816.8,878.5 832.3,838.7 849.3,800.5 854.0,776.4 860.1,753.6 872.4,740.3 884.8,733.2 893.0,737.6 900.2,734.0 912.5,726.6 923.3,709.9 932.5,690.0 938.7,664.1 944.9,633.3 949.5,607.7 955.0,590.6 964.0,581.7 970.0,569.4 975.4,544.0 980.2,526.7 984.5,524.0 990.0,525.7 993.7,540.1 998.5,560.6 1004.6,599.8 1010.7,630.0 1015.6,633.0 1020.5,612.0 1027.8,586.2 1035.1,560.5 1043.7,555.7 1055.9,548.9 1068.0,549.0 1077.8,547.9 1086.3,555.4 1096.1,564.6 1103.4,572.0 1108.3,579.8 1113.2,616.5 1116.8,647.2 1121.4,691.8 1129.1,743.6 1136.8,777.4 1147.1,808.7 1157.4,834.8 1170.2,853.3 1188.2,869.4 1203.6,890.4 1219.0,898.1 1234.4,905.8 1249.8,921.2 1265.2,931.5 1280.6,938.0 1296.0,946.9 1311.4,964.8 1337.1,975.1 1367.9,1000.8 1390.0,1011.0 1405.4,1028.8 1426.0,1038.9 1449.1,1054.2 1467.0,1066.9 1487.6,1074.4 1510.7,1089.7 1533.8,1098.6 1549.2,1110.0 1574.9,1120.0 1595.4,1126.7 1616.0,1135.2 1639.1,1143.4 1654.5,1155.7 1680.2,1168.4 1711.0,1178.4 1736.7,1188.4 1762.4,1198.4 1782.9,1211.0 1813.7,1226.1 1839.4,1236.1 1865.1,1243.6 1892.0,1247.2" stroke="#dc0c1c" stroke-width="10" fill="none" stroke-linejoin="round" stroke-linecap="round"/>
<polyline points="375.0,1245.9 395.0,1226.0 408.0,1208.0 420.0,1184.0 433.8,1150.0 445.0,1117.0 455.0,1088.0 462.0,1072.0 472.7,1061.0 488.1,1068.7 503.5,1076.4 521.5,1071.2 536.9,1058.4 554.9,1043.0 570.3,1027.6 583.1,1009.6 601.1,981.4 624.2,973.7 639.6,960.8 652.5,950.5 667.0,942.8 678.2,926.0 696.1,917.2 714.1,909.5 729.5,883.8 739.8,863.3 755.2,858.2 770.6,837.6 791.2,822.2 801.4,806.8 811.7,775.0 818.5,760.3 830.8,729.5 841.6,706.4 852.4,667.9 860.1,641.7 872.4,629.3 890.9,618.6 903.3,598.5 915.6,577.0 926.0,565.0 931.4,545.0 935.5,528.0 940.9,507.0 950.1,461.0 958.2,451.6 975.5,443.5 984.8,428.5 991.0,437.0 998.6,455.1 1005.0,474.0 1010.2,484.0 1016.0,485.0 1021.7,478.2 1033.3,443.5 1044.8,428.5 1052.1,426.8 1075.2,432.0 1088.0,442.2 1098.3,462.8 1106.0,503.8 1113.7,550.0 1121.4,601.4 1129.1,639.9 1136.8,673.3 1147.1,709.2 1157.4,740.0 1172.8,755.4 1190.7,770.8 1201.0,794.0 1211.3,809.4 1226.7,817.1 1239.5,824.8 1252.4,845.3 1267.8,860.7 1285.7,871.0 1296.0,886.4 1316.6,909.5 1337.1,922.4 1355.1,942.9 1370.0,958.0 1390.0,971.0 1410.5,994.0 1431.1,1006.8 1454.2,1029.9 1477.3,1045.3 1483.0,1043.0 1485.0,1017.0 1487.0,1045.0 1497.9,1055.0 1518.4,1073.6 1533.8,1080.0 1544.1,1089.0 1569.8,1104.5 1595.4,1114.8 1621.1,1132.7 1646.8,1147.0 1672.5,1161.1 1698.2,1176.5 1723.8,1191.9 1762.4,1204.8 1800.9,1220.2 1839.4,1233.0 1865.0,1241.0 1892.0,1247.2" stroke="#1eec24" stroke-width="10" fill="none" stroke-linejoin="round" stroke-linecap="round"/>
<polyline points="375.0,1245.9 394.2,1237.7 405.0,1230.0 415.4,1220.7 426.7,1205.2 436.6,1181.2 445.1,1155.8 453.5,1119.1 462.0,1089.4 469.1,1080.5 479.0,1089.4 486.0,1103.5 490.7,1114.0 503.5,1127.7 517.7,1138.0 534.4,1132.9 554.9,1125.2 572.9,1112.3 588.3,1094.4 603.7,1078.9 624.2,1076.4 639.6,1066.1 652.5,1058.4 673.0,1050.7 685.9,1035.3 701.3,1027.6 716.7,1022.4 727.0,1001.9 732.1,981.4 734.7,950.5 737.2,940.3 757.8,966.0 773.2,960.8 791.2,950.5 798.0,935.0 816.8,883.8 832.3,840.2 849.3,800.0 854.0,775.7 860.1,752.6 872.4,738.7 884.8,731.0 893.0,735.0 900.2,731.0 912.5,723.3 923.3,706.4 932.5,686.3 938.7,660.2 944.9,629.3 949.5,601.6 955.0,582.0 964.0,570.0 970.0,556.0 975.4,524.9 980.2,500.5 984.5,494.4 990.0,501.7 993.7,524.9 998.5,555.4 1004.6,592.0 1010.7,616.3 1015.6,620.0 1020.5,604.1 1027.8,579.8 1035.1,555.4 1043.7,543.2 1055.9,527.3 1068.0,520.0 1077.8,520.0 1086.3,528.5 1096.1,540.7 1103.4,555.4 1108.3,579.8 1113.2,616.3 1116.8,646.8 1121.4,691.2 1129.1,742.6 1136.8,776.0 1147.1,806.8 1157.4,832.5 1170.2,850.5 1188.2,865.9 1203.6,886.4 1219.0,894.1 1234.4,901.8 1249.8,917.2 1265.2,927.5 1280.6,934.0 1296.0,942.9 1311.4,960.8 1337.1,971.1 1367.9,996.8 1390.0,1007.0 1405.4,1024.8 1426.0,1035.1 1449.1,1050.5 1467.0,1063.3 1487.6,1071.0 1510.7,1086.4 1533.8,1095.5 1549.2,1107.0 1574.9,1117.2 1595.4,1124.0 1616.0,1132.6 1639.1,1141.0 1654.5,1153.4 1680.2,1166.3 1711.0,1176.5 1736.7,1186.8 1762.4,1197.1 1782.9,1209.9 1813.7,1225.3 1839.4,1235.6 1865.1,1243.3 1892.0,1247.2" stroke="#1004cc" stroke-width="10" fill="none" stroke-linejoin="round" stroke-linecap="round"/>
<polyline points="375.0,1244.0 380.0,1240.5 390.0,1227.0 401.3,1209.4 412.0,1192.0 422.5,1172.0 433.8,1138.8 443.6,1103.5 450.7,1075.3 457.8,1047.0 465.0,1030.2 475.3,1025.0 488.1,1035.3 503.5,1035.3 518.9,1030.2 529.2,1009.6 544.6,994.2 560.0,976.2 572.9,950.5 588.3,930.0 601.1,899.3 626.8,883.8 639.6,863.3 665.3,845.3 688.4,812.0 714.1,796.5 729.5,763.1 737.2,742.6 755.2,734.9 768.0,709.2 791.2,686.1 806.6,647.6 822.0,603.9 835.0,571.0 843.0,550.0 846.0,530.0 858.0,478.2 868.2,457.6 883.6,447.3 895.4,432.0 913.4,396.0 928.8,360.0 936.5,324.1 944.2,277.9 953.2,244.5 961.0,246.0 970.0,238.0 976.5,230.0 981.0,212.0 985.5,203.0 993.0,213.7 1003.3,259.9 1013.5,267.6 1023.8,247.0 1034.1,213.7 1044.4,198.2 1059.8,188.0 1080.3,190.5 1090.6,198.2 1100.9,221.4 1106.0,247.0 1111.1,285.6 1117.5,324.1 1123.5,367.7 1126.5,401.1 1134.2,439.6 1141.9,478.2 1153.0,516.7 1161.0,545.0 1168.0,559.0 1175.0,567.0 1188.2,580.8 1201.0,611.6 1213.9,637.3 1226.7,647.6 1239.5,655.3 1249.8,673.3 1262.6,698.9 1275.5,711.8 1285.7,716.9 1301.2,742.6 1316.6,765.7 1334.5,776.0 1347.4,796.5 1360.2,819.6 1378.2,835.1 1390.0,843.0 1405.4,873.3 1420.8,893.8 1441.4,906.6 1456.8,929.8 1474.7,947.7 1492.7,960.6 1510.7,986.3 1533.8,999.1 1549.2,1017.1 1569.8,1037.6 1593.0,1050.0 1610.8,1071.0 1625.0,1083.0 1647.0,1097.0 1672.5,1118.0 1695.0,1136.0 1713.6,1150.0 1723.8,1158.6 1749.5,1176.5 1775.2,1197.1 1800.9,1209.9 1826.6,1222.8 1852.2,1233.0 1877.9,1240.7 1892.0,1243.3" stroke="#2cf0e8" stroke-width="10" fill="none" stroke-linejoin="round" stroke-linecap="round"/>
</g>
<g id="axes">
<line x1="374.0" y1="75.30" x2="374.0" y2="1307.04" stroke="#000" stroke-width="8"/>
<line x1="370.0" y1="1303.04" x2="1896.10" y2="1303.04" stroke="#000" stroke-width="8"/>
<line x1="349" y1="1244.75" x2="374.0" y2="1244.75" stroke="#000" stroke-width="7.5"/>
<line x1="362.5" y1="1128.18" x2="374.0" y2="1128.18" stroke="#000" stroke-width="7.5"/>
<line x1="349" y1="1011.61" x2="374.0" y2="1011.61" stroke="#000" stroke-width="7.5"/>
<line x1="362.5" y1="895.04" x2="374.0" y2="895.04" stroke="#000" stroke-width="7.5"/>
<line x1="349" y1="778.47" x2="374.0" y2="778.47" stroke="#000" stroke-width="7.5"/>
<line x1="362.5" y1="661.90" x2="374.0" y2="661.90" stroke="#000" stroke-width="7.5"/>
<line x1="349" y1="545.33" x2="374.0" y2="545.33" stroke="#000" stroke-width="7.5"/>
<line x1="362.5" y1="428.76" x2="374.0" y2="428.76" stroke="#000" stroke-width="7.5"/>
<line x1="349" y1="312.19" x2="374.0" y2="312.19" stroke="#000" stroke-width="7.5"/>
<line x1="362.5" y1="195.62" x2="374.0" y2="195.62" stroke="#000" stroke-width="7.5"/>
<line x1="349" y1="79.05" x2="374.0" y2="79.05" stroke="#000" stroke-width="7.5"/>
<line x1="486.10" y1="1303.04" x2="486.10" y2="1326" stroke="#000" stroke-width="8"/>
<line x1="626.70" y1="1303.04" x2="626.70" y2="1314" stroke="#000" stroke-width="8"/>
<line x1="767.30" y1="1303.04" x2="767.30" y2="1326" stroke="#000" stroke-width="8"/>
<line x1="907.90" y1="1303.04" x2="907.90" y2="1314" stroke="#000" stroke-width="8"/>
<line x1="1048.50" y1="1303.04" x2="1048.50" y2="1326" stroke="#000" stroke-width="8"/>
<line x1="1189.10" y1="1303.04" x2="1189.10" y2="1314" stroke="#000" stroke-width="8"/>
<line x1="1329.70" y1="1303.04" x2="1329.70" y2="1326" stroke="#000" stroke-width="8"/>
<line x1="1470.30" y1="1303.04" x2="1470.30" y2="1314" stroke="#000" stroke-width="8"/>
<line x1="1610.90" y1="1303.04" x2="1610.90" y2="1326" stroke="#000" stroke-width="8"/>
<line x1="1751.50" y1="1303.04" x2="1751.50" y2="1314" stroke="#000" stroke-width="8"/>
<line x1="1892.10" y1="1303.04" x2="1892.10" y2="1326" stroke="#000" stroke-width="8"/>
</g>
<g id="labels">
<text transform="translate(331.5,1263.8) scale(0.94,1)" text-anchor="end" font-size="66">0</text>
<text transform="translate(331.5,1030.6) scale(0.94,1)" text-anchor="end" font-size="66">20,000</text>
<text transform="translate(331.5,797.5) scale(0.94,1)" text-anchor="end" font-size="66">40,000</text>
<text transform="translate(331.5,564.3) scale(0.94,1)" text-anchor="end" font-size="66">60,000</text>
<text transform="translate(331.5,331.2) scale(0.94,1)" text-anchor="end" font-size="66">80,000</text>
<text transform="translate(331.5,98.0) scale(0.94,1)" text-anchor="end" font-size="66">100,000</text>
<text transform="translate(486.1,1393.5) scale(0.94,1)" text-anchor="middle" font-size="66">500</text>
<text transform="translate(767.3,1393.5) scale(0.94,1)" text-anchor="middle" font-size="66">1000</text>
<text transform="translate(1048.5,1393.5) scale(0.94,1)" text-anchor="middle" font-size="66">1500</text>
<text transform="translate(1329.7,1393.5) scale(0.94,1)" text-anchor="middle" font-size="66">2000</text>
<text transform="translate(1610.9,1393.5) scale(0.94,1)" text-anchor="middle" font-size="66">2500</text>
<text transform="translate(1892.1,1393.5) scale(0.94,1)" text-anchor="middle" font-size="66">3000</text>
<text x="1133.1" y="1512.6" text-anchor="middle" font-size="82" textLength="690" lengthAdjust="spacingAndGlyphs">Raman shift (cm-1)</text>
<text transform="translate(91.7,659.5) rotate(-90)" x="0" y="0" text-anchor="middle" font-size="82" textLength="619" lengthAdjust="spacingAndGlyphs">Intensity (counts)</text>
</g>
<g id="legend">
<line x1="1153.5" y1="65.5" x2="1333.5" y2="65.5" stroke="#000000" stroke-width="8" stroke-linecap="round"/>
<text x="1355.5" y="92.0" font-size="81" textLength="156" lengthAdjust="spacingAndGlyphs">ZnO</text>
<line x1="1153.5" y1="164.1" x2="1333.5" y2="164.1" stroke="#dc0c1c" stroke-width="8" stroke-linecap="round"/>
<text x="1355.5" y="190.6" font-size="81" textLength="731" lengthAdjust="spacingAndGlyphs">ZnO-PDA-0.3 mg/ml</text>
<line x1="1153.5" y1="262.7" x2="1333.5" y2="262.7" stroke="#1eec24" stroke-width="8" stroke-linecap="round"/>
<text x="1355.5" y="289.2" font-size="81" textLength="731" lengthAdjust="spacingAndGlyphs">ZnO-PDA-0.4 mg/ml</text>
<line x1="1153.5" y1="361.3" x2="1333.5" y2="361.3" stroke="#1004cc" stroke-width="8" stroke-linecap="round"/>
<text x="1355.5" y="387.8" font-size="81" textLength="731" lengthAdjust="spacingAndGlyphs">ZnO-PDA-0.5 mg/ml</text>
<line x1="1153.5" y1="459.9" x2="1333.5" y2="459.9" stroke="#2cf0e8" stroke-width="8" stroke-linecap="round"/>
<text x="1355.5" y="486.4" font-size="81" textLength="731" lengthAdjust="spacingAndGlyphs">ZnO-PDA-0.7 mg/ml</text>
</g>
</g>
</svg></body></html>
